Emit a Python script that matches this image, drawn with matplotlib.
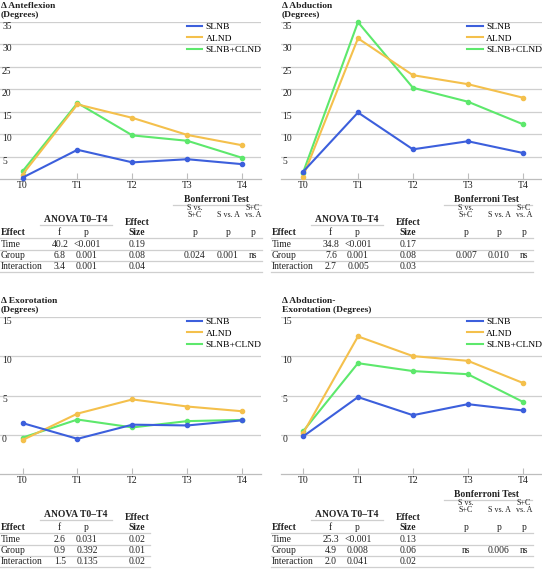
import matplotlib
matplotlib.use('Agg')
import matplotlib.pyplot as plt
from matplotlib.lines import Line2D

plt.rcParams['font.family'] = ['Liberation Serif', 'DejaVu Serif']

W, H = 542, 573

# Zeitpunkte
time_points = ['T0', 'T1', 'T2', 'T3', 'T4']
groups = ['SLNB', 'ALND', 'SLNB+CLND']
colors = ['#3c5fdc', '#f4c04c', '#5de86c']

# Kurven (Mittelwerte, Grad)
antefl_slnb = [0.3, 6.5, 3.7, 4.4, 3.3]
antefl_alnd = [1.0, 16.6, 13.6, 9.8, 7.5]
antefl_clnd = [1.7, 16.9, 9.7, 8.5, 4.7]

abd_slnb = [1.6, 14.8, 6.6, 8.4, 5.8]
abd_alnd = [0.5, 31.3, 23.1, 21.1, 18.1]
abd_clnd = [1.4, 34.9, 20.3, 17.2, 12.2]

exo_slnb = [1.5, -0.5, 1.3, 1.2, 1.85]
exo_alnd = [-0.65, 2.7, 4.5, 3.6, 3.0]
exo_clnd = [-0.35, 1.95, 0.95, 1.75, 1.9]

abdexo_slnb = [-0.2, 4.8, 2.5, 3.9, 3.1]
abdexo_alnd = [0.2, 12.5, 10.0, 9.4, 6.6]
abdexo_clnd = [0.45, 9.1, 8.1, 7.7, 4.2]

# Statistik-Tabellen
effects = ['Time', 'Group', 'Interaction']
antefl_f = ['40.2', '6.8', '3.4']
antefl_p = ['<0.001', '0.001', '0.001']
antefl_es = ['0.19', '0.08', '0.04']
antefl_bonf = ['0.024', '0.001', 'ns']

abd_f = ['34.8', '7.6', '2.7']
abd_p = ['<0.001', '0.001', '0.005']
abd_es = ['0.17', '0.08', '0.03']
abd_bonf = ['0.007', '0.010', 'ns']

exo_f = ['2.6', '0.9', '1.5']
exo_p = ['0.031', '0.392', '0.135']
exo_es = ['0.02', '0.01', '0.02']

abdexo_f = ['25.3', '4.9', '2.0']
abdexo_p = ['<0.001', '0.008', '0.041']
abdexo_es = ['0.13', '0.06', '0.02']
abdexo_bonf = ['ns', '0.006', 'ns']

fig = plt.figure(figsize=(W / 100, H / 100), dpi=100)


def fx(x):
    return x / W


def fy(y):
    return 1 - y / H


def txt(x, y, s, **kw):
    kw.setdefault('fontsize', 6.9)
    kw.setdefault('va', 'baseline')
    fig.text(fx(x), fy(y), s, color='#222222', **kw)


def hline(x0, x1, y, color='#cfcfcf', lw=0.9):
    fig.add_artist(Line2D([fx(x0), fx(x1)], [fy(y), fy(y)], color=color, lw=lw,
                          transform=fig.transFigure))


def chart(left, top, bottom, ylim, yticks, series, title):
    ax = fig.add_axes([fx(left), fy(bottom), 261 / W, (bottom - top) / H])
    x = list(range(len(time_points)))
    for i in [2, 1, 0]:
        ax.plot(x, series[i], color=colors[i], lw=1.5, marker='o', ms=3,
                zorder=3 + (2 - i), clip_on=False)
    ax.set_xlim(-0.41, 4.34)
    ax.set_ylim(*ylim)
    ax.set_yticks(yticks)
    ax.yaxis.grid(True, color='#cfcfcf', lw=0.9)
    ax.tick_params(axis='y', length=0, labelleft=False)
    for v in yticks:
        ax.text(0.008, v, str(v), transform=ax.get_yaxis_transform(),
                ha='left', va='top', fontsize=6.9, color='#222222')
    ax.set_xticks(x)
    ax.set_xticklabels(time_points, fontsize=7, color='#222222')
    ax.tick_params(axis='x', direction='in', length=4, color='#bdbdbd', pad=1.5)
    for s in ['top', 'left', 'right']:
        ax.spines[s].set_visible(False)
    ax.spines['bottom'].set_color('#bdbdbd')
    ax.spines['bottom'].set_linewidth(0.9)
    ax.set_facecolor('none')
    handles = [Line2D([], [], color=colors[i], lw=1.5) for i in range(3)]
    ax.legend(handles, groups, loc='upper right', bbox_to_anchor=(1.025, 1.03),
              frameon=False, fontsize=6.8, handlelength=1.6, handletextpad=0.4,
              labelspacing=0.3, borderaxespad=0.2)
    for j, line in enumerate(title):
        txt(left + 1, top - 16 + j * 9.5, line, fontweight='bold', fontsize=6.8,
            va='center')
    return ax


def table(x0, y0, f, p, es, bonf=None):
    width = 262 if bonf else 150
    if bonf:
        txt(x0 + 216, y0 + 202.3, 'Bonferroni Test', ha='center', fontweight='bold')
        hline(x0 + 173, x0 + 261, y0 + 204.8)
        txt(x0 + 195, y0 + 210.3, 'S vs.', ha='center', fontsize=5.8)
        txt(x0 + 195, y0 + 217.4, 'S+C', ha='center', fontsize=5.8)
        txt(x0 + 228, y0 + 217.4, 'S vs. A', ha='center', fontsize=5.8)
        txt(x0 + 253, y0 + 210.3, 'S+C', ha='center', fontsize=5.8)
        txt(x0 + 253, y0 + 217.4, 'vs. A', ha='center', fontsize=5.8)
    txt(x0 + 76, y0 + 221.7, 'ANOVA T0\u2013T4', ha='center', fontweight='bold')
    hline(x0 + 40, x0 + 112, y0 + 225)
    txt(x0 + 137, y0 + 225.2, 'Effect', ha='center', fontweight='bold')
    txt(x0 + 137, y0 + 235, 'Size', ha='center', fontweight='bold')
    txt(x0 + 0.5, y0 + 235, 'Effect', ha='left', fontweight='bold')
    txt(x0 + 59, y0 + 235, 'f', ha='center')
    txt(x0 + 86, y0 + 235, 'p', ha='center')
    if bonf:
        for cx in [195, 228, 253]:
            txt(x0 + cx, y0 + 235, 'p', ha='center')
    hline(x0, x0 + width, y0 + 238.3)
    row_y = [246.7, 258.0, 269.3]
    line_y = [249.5, 261.0, 272.3]
    for k in range(3):
        txt(x0 + 0.5, y0 + row_y[k], effects[k], ha='left')
        txt(x0 + 60, y0 + row_y[k], f[k], ha='center')
        txt(x0 + 87, y0 + row_y[k], p[k], ha='center')
        txt(x0 + 137, y0 + row_y[k], es[k], ha='center')
        hline(x0, x0 + width, y0 + line_y[k])
    if bonf:
        for cx, v in zip([195, 228, 253], bonf):
            txt(x0 + cx, y0 + 258.0, v, ha='center')


chart(0, 21.7, 179, (0, 35), [5, 10, 15, 20, 25, 30, 35],
      [antefl_slnb, antefl_alnd, antefl_clnd], ['\u0394 Anteflexion', '(Degrees)'])
chart(280.5, 21.7, 179, (0, 35), [5, 10, 15, 20, 25, 30, 35],
      [abd_slnb, abd_alnd, abd_clnd], ['\u0394 Abduction', '(Degrees)'])
chart(0, 316.7, 474.3, (-5, 15), [0, 5, 10, 15],
      [exo_slnb, exo_alnd, exo_clnd], ['\u0394 Exorotation', '(Degrees)'])
chart(280.5, 316.7, 474.3, (-5, 15), [0, 5, 10, 15],
      [abdexo_slnb, abdexo_alnd, abdexo_clnd], ['\u0394 Abduction-', 'Exorotation (Degrees)'])

table(0, 0, antefl_f, antefl_p, antefl_es, antefl_bonf)
table(271, 0, abd_f, abd_p, abd_es, abd_bonf)
table(0, 295, exo_f, exo_p, exo_es)
table(271, 295, abdexo_f, abdexo_p, abdexo_es, abdexo_bonf)

fig.savefig('out.png', dpi=100)
